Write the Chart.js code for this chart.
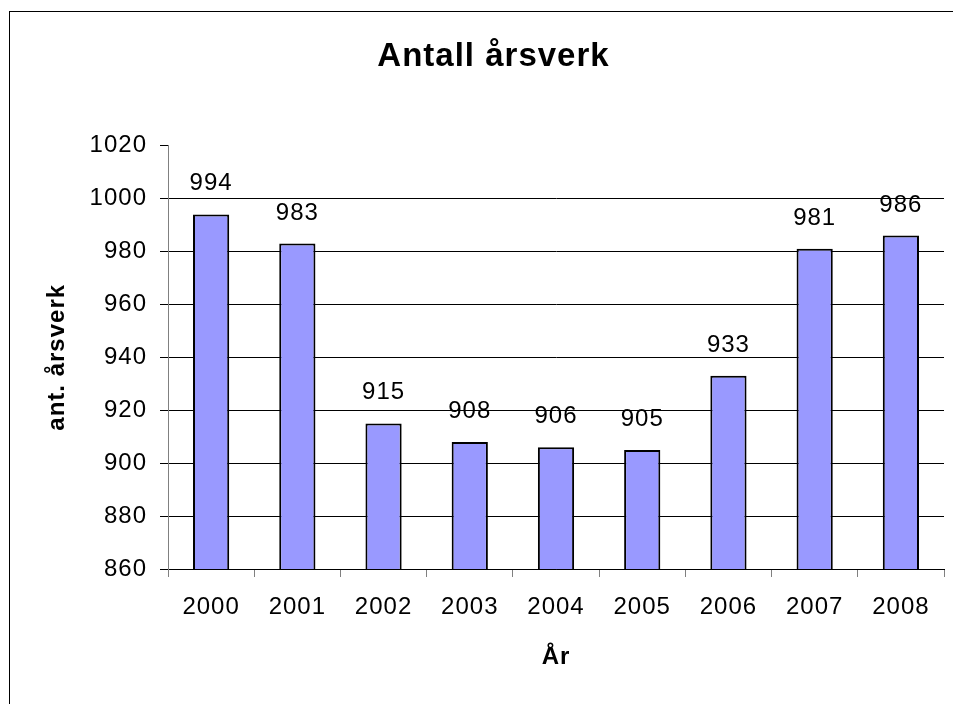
<!DOCTYPE html>
<html lang="no">
<head>
    <meta charset="UTF-8">
    <title>Antall årsverk</title>
    <script src="https://cdn.jsdelivr.net/npm/chart.js"></script>
    <style>
        body { margin: 0; background: #fff; overflow: hidden; }
    </style>
</head>
<body>
    <canvas id="aarsverkChart" width="953" height="704"></canvas>

    <script>
        const years = ['2000', '2001', '2002', '2003', '2004', '2005', '2006', '2007', '2008'];
        const aarsverk = [994, 983, 915, 908, 906, 905, 933, 981, 986];
        const yMin = 860;
        const yMax = 1020;
        const yStep = 20;

        const fontFamily = "'Liberation Sans', Arial, sans-serif";

        // white background, outer frame, slightly wider letter spacing like the original
        const framePlugin = {
            id: 'frame',
            beforeDraw(chart) {
                const c = chart.ctx;
                c.save();
                c.fillStyle = '#fff';
                c.fillRect(0, 0, chart.width, chart.height);
                c.strokeStyle = '#000';
                c.lineWidth = 1;
                c.strokeRect(9.5, 11.5, chart.width + 20, chart.height + 20);
                c.restore();
                c.letterSpacing = '1px';
            },
            afterDraw(chart) {
                chart.ctx.letterSpacing = '0px';
            }
        };

        // value over each bar
        const valueLabels = {
            id: 'valueLabels',
            afterDatasetsDraw(chart) {
                const c = chart.ctx;
                const meta = chart.getDatasetMeta(0);
                c.save();
                c.font = '24px ' + fontFamily;
                c.fillStyle = '#000';
                c.textAlign = 'center';
                c.textBaseline = 'alphabetic';
                meta.data.forEach((bar, i) => {
                    c.fillText(String(aarsverk[i]), bar.x, bar.y - 24);
                });
                c.restore();
            }
        };

        const ctx = document.getElementById('aarsverkChart').getContext('2d');
        new Chart(ctx, {
            type: 'bar',
            data: {
                labels: years,
                datasets: [{
                    label: 'Antall årsverk',
                    data: aarsverk,
                    backgroundColor: '#9999FF',
                    borderColor: '#000',
                    borderWidth: 2,
                    borderSkipped: false,
                    barPercentage: 0.42,
                    categoryPercentage: 1
                }]
            },
            options: {
                responsive: false,
                animation: false,
                layout: {
                    padding: { left: 43, right: 9, top: 0, bottom: 30 }
                },
                plugins: {
                    legend: { display: false },
                    tooltip: { enabled: false },
                    title: {
                        display: true,
                        text: 'Antall årsverk',
                        color: '#000',
                        font: { family: fontFamily, size: 33, weight: 'bold' },
                        padding: { top: 37, bottom: 69 }
                    }
                },
                scales: {
                    x: {
                        afterFit(scale) { scale.height = 105; },
                        grid: {
                            offset: true,
                            drawOnChartArea: false,
                            color: '#808080',
                            tickLength: 8
                        },
                        border: { color: '#000', width: 1 },
                        ticks: {
                            color: '#000',
                            padding: 16,
                            maxRotation: 0,
                            font: { family: fontFamily, size: 24 }
                        },
                        title: {
                            display: true,
                            text: 'År',
                            color: '#000',
                            padding: { top: 0, bottom: 2 },
                            font: { family: fontFamily, size: 24, weight: 'bold' }
                        }
                    },
                    y: {
                        min: yMin,
                        max: yMax,
                        afterFit(scale) { scale.width = 125; },
                        grid: {
                            color: c => c.tick && c.tick.value === yMax ? 'rgba(0,0,0,0)' : '#000',
                            tickColor: '#000',
                            tickLength: 8
                        },
                        border: { color: '#808080', width: 1 },
                        ticks: {
                            stepSize: yStep,
                            color: '#000',
                            padding: 13,
                            font: { family: fontFamily, size: 24 },
                            callback: v => String(v)
                        },
                        title: {
                            display: true,
                            text: 'ant. årsverk',
                            color: '#000',
                            padding: 0,
                            font: { family: fontFamily, size: 24, weight: 'bold' }
                        }
                    }
                }
            },
            plugins: [framePlugin, valueLabels]
        });
    </script>
</body>
</html>
